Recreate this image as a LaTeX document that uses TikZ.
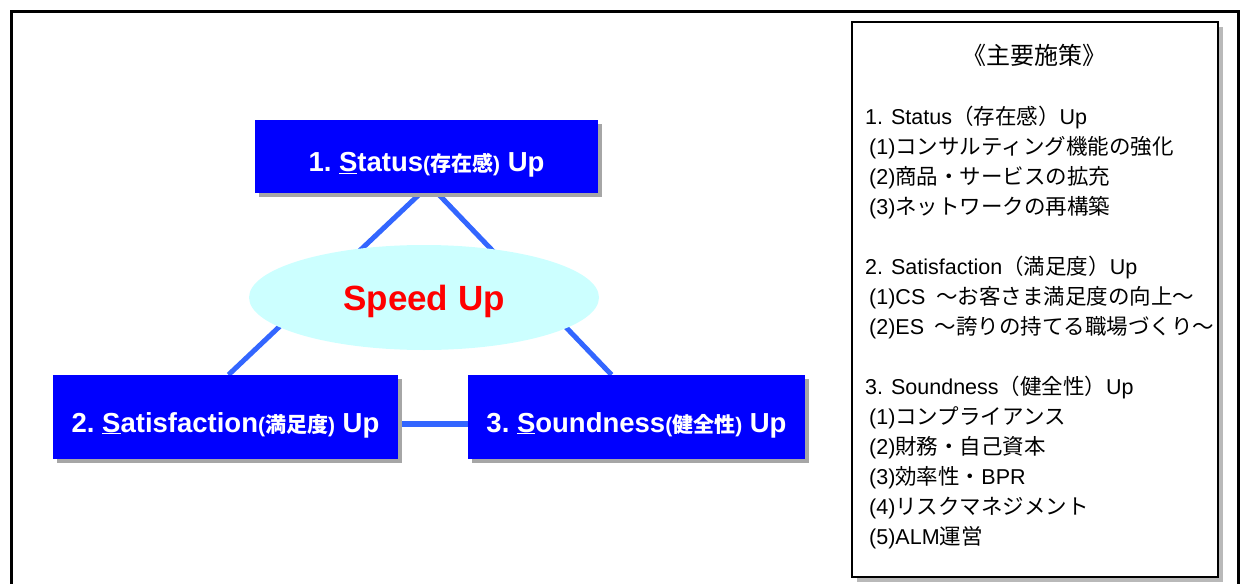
\documentclass[tikz,border=0pt]{standalone}
\usepackage{fontspec}
\setmainfont{Liberation Sans}
\newfontfamily\jp{Noto Sans CJK JP}
\usepackage{tikz}
\usetikzlibrary{shapes,positioning,shadows,backgrounds}
\usepackage{xcolor}
\definecolor{goalblue}{RGB}{0,0,255}
\definecolor{linkblue}{RGB}{51,102,255}
\definecolor{speedcyan}{RGB}{204,255,255}
\newcommand{\kanji}[1]{{\fontsize{21}{24}\selectfont({\jp #1})}}

\begin{document}
\begin{tikzpicture}[x=1pt, y=-1pt,
    goal/.style={rectangle, fill=goalblue, text=white, inner sep=0pt,
        text height=30pt, text depth=0pt,
        font=\fontsize{27.5}{32}\selectfont\bfseries,
        drop shadow={shadow xshift=4pt, shadow yshift=-4pt, fill=gray!70, opacity=1}},
    speed/.style={ellipse, fill=speedcyan, inner sep=0pt, text=red,
        text height=25pt, text depth=0pt,
        font=\fontsize{35}{40}\selectfont\bfseries},
    panel/.style={rectangle, draw=black, line width=1.2pt, fill=white,
        drop shadow={shadow xshift=5pt, shadow yshift=-5pt, fill=gray!55, opacity=1}},
    link/.style={draw=linkblue, line width=5pt}]
    \useasboundingbox (0,0) rectangle (1246,583);
    \draw[line width=3.5pt] (11.5,11.5) rectangle (1238.5,610);

    \node[goal, minimum width=343pt, minimum height=73pt] (stat) at (426.5,156.5)
        {1.\ \underline{S}tatus\kanji{存在感}\ Up};
    \node[goal, minimum width=345pt, minimum height=84pt] (sat) at (225.5,417)
        {2.\ \underline{S}atisfaction\kanji{満足度}\ Up};
    \node[goal, minimum width=337pt, minimum height=84pt] (snd) at (636.5,417)
        {3.\ \underline{S}oundness\kanji{健全性}\ Up};
    \node[speed, minimum width=350pt, minimum height=105pt] (spd) at (424,297.5) {Speed Up};

    \begin{scope}[on background layer]
        \draw[link] ([xshift=-6pt]stat.south) -- ([xshift=3pt]sat.north);
        \draw[link] ([xshift=11pt]stat.south) -- ([xshift=-25pt]snd.north);
        \draw[link, line width=6pt] ([yshift=-6.5pt]sat.east) -- ([yshift=-6.5pt]snd.west);
    \end{scope}

    % measures
    \node[panel, minimum width=366pt, minimum height=555pt] (plan) at (1035,299.5) {};
    \node[font=\jp\fontsize{24}{28}\selectfont] (head) at (1034,55) {《主要施策》};
    \node[anchor=north west, align=left, inner sep=0pt,
        font=\fontsize{21.5}{30}\selectfont] (items) at (865,106) {
        1. Status{\jp （存在感）}Up\\
        \hspace*{4pt}(1){\jp コンサルティング機能の強化}\\
        \hspace*{4pt}(2){\jp 商品・サービスの拡充}\\
        \hspace*{4pt}(3){\jp ネットワークの再構築}\\[30pt]
        2. Satisfaction{\jp （満足度）}Up\\
        \hspace*{4pt}(1)CS\enspace{\jp ～お客さま満足度の向上～}\\
        \hspace*{4pt}(2)ES\enspace{\jp ～誇りの持てる職場づくり～}\\[30pt]
        3. Soundness{\jp （健全性）}Up\\
        \hspace*{4pt}(1){\jp コンプライアンス}\\
        \hspace*{4pt}(2){\jp 財務・自己資本}\\
        \hspace*{4pt}(3){\jp 効率性・}BPR\\
        \hspace*{4pt}(4){\jp リスクマネジメント}\\
        \hspace*{4pt}(5)ALM{\jp 運営}};
\end{tikzpicture}
\end{document}
